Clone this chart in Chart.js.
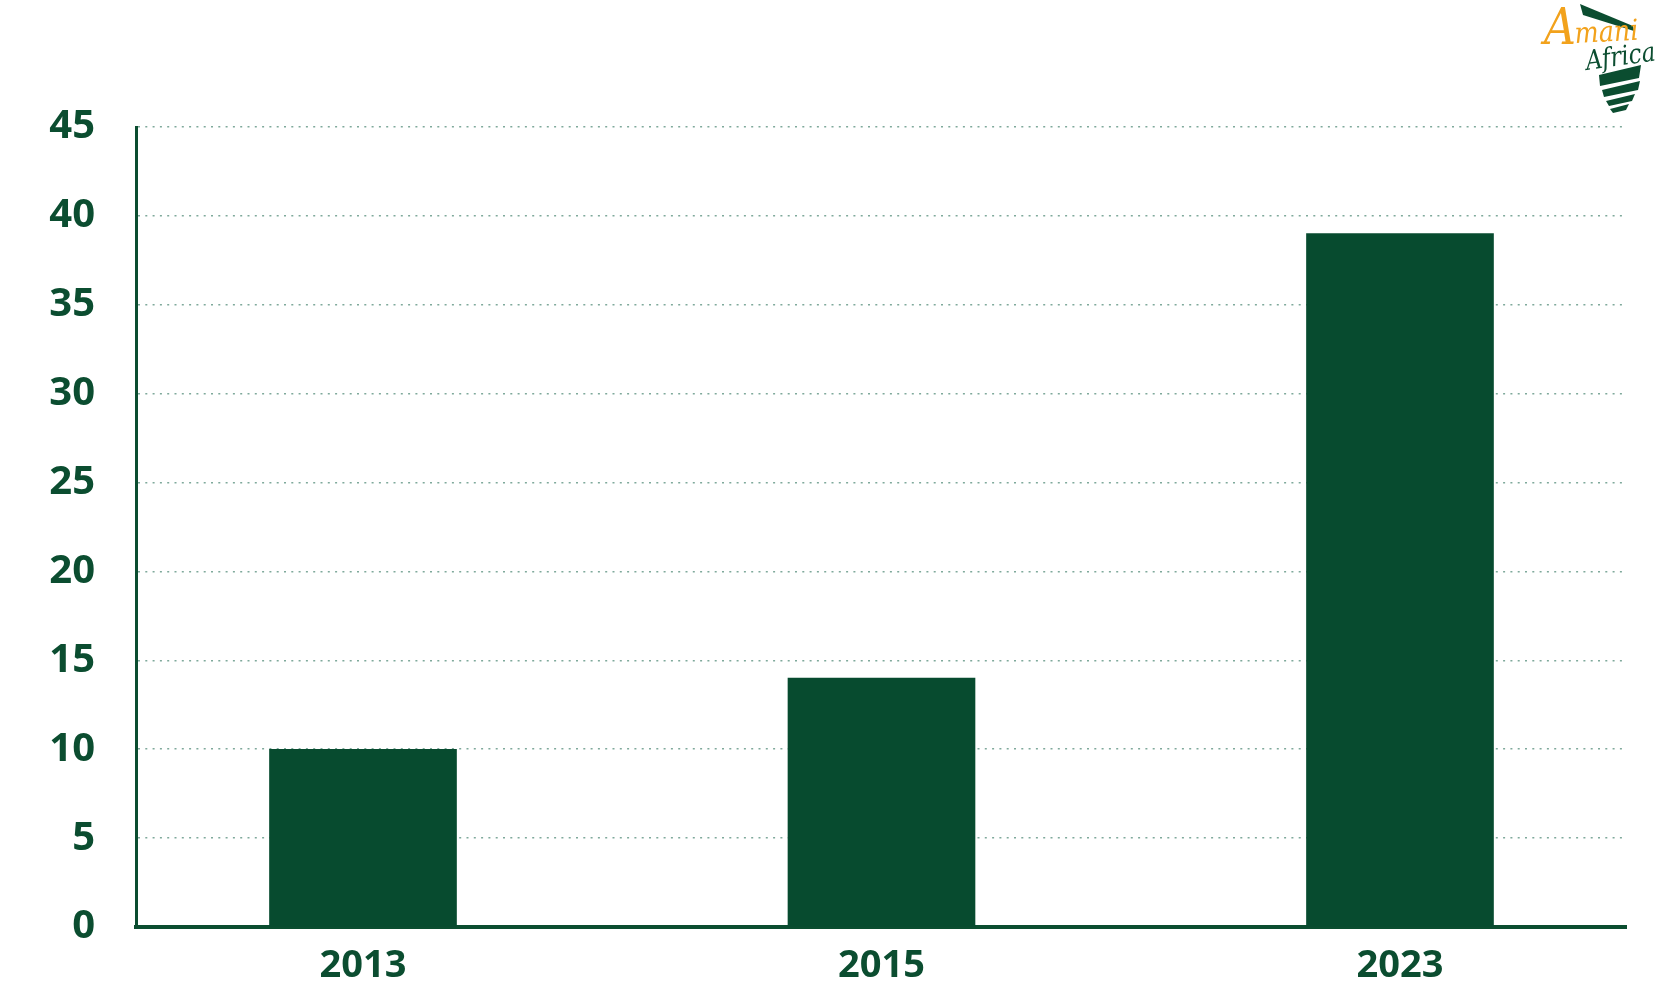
<!DOCTYPE html>
<html>
<head>
<meta charset="utf-8">
<script src="https://cdn.jsdelivr.net/npm/chart.js@4.4.0/dist/chart.umd.min.js"></script>
<style>
  html, body { margin: 0; padding: 0; background: #ffffff; }
  #wrap { position: relative; width: 1672px; height: 1000px; }
  #logo { position: absolute; left: 1540px; top: 0px; }
</style>
</head>
<body>
<div id="wrap">
  <canvas id="c" width="1672" height="1000"></canvas>
  <svg id="logo" width="132" height="120" viewBox="0 0 132 120">
    <polygon points="40,4 43,15 94,31 93,26" fill="#0b4d30"/>
    <text x="4" y="44" font-family="DejaVu Serif" font-style="italic" font-size="50" fill="#f2a21c" textLength="32" lengthAdjust="spacingAndGlyphs">A</text>
    <text x="35" y="43" font-family="DejaVu Serif" font-style="italic" font-size="29" fill="#f2a21c" textLength="64" lengthAdjust="spacingAndGlyphs" transform="rotate(-3 35 43)">mani</text>
    <text x="47" y="70" font-family="DejaVu Serif" font-style="italic" font-size="27" fill="#0b4d30" textLength="70" lengthAdjust="spacingAndGlyphs" transform="rotate(-8 47 70)">Africa</text>
    <polygon points="59,75 101,65 99,78 60,86" fill="#0b4d30"/>
    <polygon points="62,90 100,81 98,90 64,97" fill="#0b4d30"/>
    <polygon points="66,101 95,94 92,101 69,106" fill="#0b4d30"/>
    <polygon points="70,109 89,104 86,110 73,113" fill="#0b4d30"/>
  </svg>
</div>
<script>
const categories = ["2013", "2015", "2023"];
const values = [10, 14, 39];
const yTicks = [0, 5, 10, 15, 20, 25, 30, 35, 40, 45];

const green = "#0b4d30";
const barGreen = "#074b2f";
const fontFamily = "'Open Sans', 'DejaVu Sans', sans-serif";

new Chart(document.getElementById("c"), {
  type: "bar",
  data: {
    datasets: [{
      data: categories.map((c, i) => ({ x: i, y: values[i] })),
      backgroundColor: barGreen,
      borderWidth: 0,
      barThickness: 187
    }]
  },
  options: {
    responsive: false,
    animation: false,
    devicePixelRatio: 1,
    layout: { padding: { left: 0, right: 46, top: 127, bottom: 0 } },
    plugins: { legend: { display: false }, tooltip: { enabled: false } },
    scales: {
      x: {
        type: "linear",
        offset: false,
        min: -0.4378,
        max: 2.4359,
        afterBuildTicks: (scale) => { scale.ticks = categories.map((c, i) => ({ value: i })); },
        afterFit: (scale) => { scale.height = 73; },
        grid: { display: false, drawTicks: false, offset: false },
        border: { display: true, color: green, width: 4 },
        ticks: {
          padding: 16,
          color: green,
          font: { family: fontFamily, size: 38, weight: "bold" },
          callback: (v) => categories[v] ?? ""
        }
      },
      y: {
        min: yTicks[0],
        max: yTicks[yTicks.length - 1],
        afterBuildTicks: (scale) => { scale.ticks = yTicks.map(v => ({ value: v })); },
        afterFit: (scale) => { scale.width = 136; },
        grid: {
          drawTicks: false,
          lineWidth: 1.6,
          color: (ctx) => (ctx.tick && ctx.tick.value === 0) ? "rgba(0,0,0,0)" : "#7fa99b"
        },
        border: { display: true, color: green, width: 3, dash: [2, 5.3] },
        ticks: {
          padding: 41,
          color: green,
          font: { family: fontFamily, size: 40, weight: "bold" },
          callback: (v) => String(v)
        }
      }
    }
  }
});
</script>
</body>
</html>
